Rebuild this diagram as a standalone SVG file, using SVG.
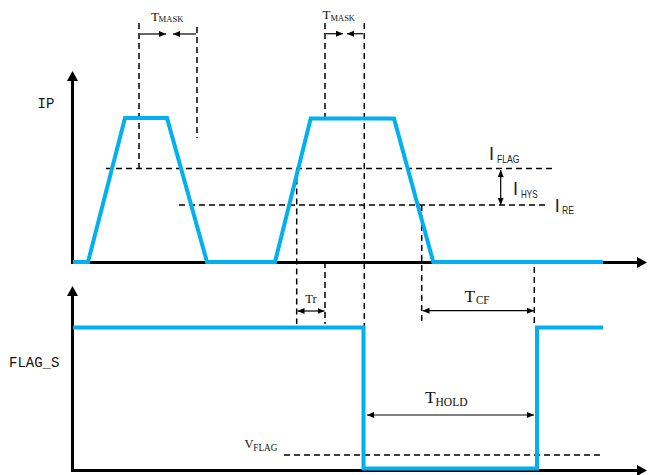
<svg xmlns="http://www.w3.org/2000/svg" width="649" height="475" viewBox="0 0 649 475">
<style>
.axis{stroke:#000;stroke-width:3;fill:none}
.wave{stroke:#00B0F0;stroke-width:4;fill:none;stroke-linejoin:miter}
.dash{stroke:#000;stroke-width:1.5;fill:none;stroke-dasharray:6 4}
.dim{stroke:#000;stroke-width:1.2;fill:none}
.serif{font-family:"Liberation Serif","Times New Roman",serif;fill:#111}
.sans{font-family:"Liberation Sans",Arial,sans-serif;fill:#222}
.mono{font-family:"Liberation Mono","DejaVu Sans Mono",monospace;fill:#111;font-size:14px}
</style>
<defs>
<marker id="axhead" markerUnits="userSpaceOnUse" markerWidth="11" markerHeight="11" refX="1" refY="5.5" orient="auto">
<path d="M0,0 L10,5.5 L0,11 z" fill="#000"/>
</marker>
<marker id="sm" markerUnits="userSpaceOnUse" markerWidth="8" markerHeight="7" refX="7" refY="3" orient="auto-start-reverse">
<path d="M0,0 L7,3 L0,6 z" fill="#000"/>
</marker>
</defs>
<g id="axes">
<path class="axis" d="M72.5,263.5 V80" marker-end="url(#axhead)"/>
<path class="axis" d="M71,262.5 H638" marker-end="url(#axhead)"/>
<path class="axis" d="M72.5,472 V295" marker-end="url(#axhead)"/>
<path class="axis" d="M71,470.5 H638" marker-end="url(#axhead)"/>
</g>
<g id="guides">
<path class="dash" d="M106,168.5 H553"/>
<path class="dash" d="M179,205 H548"/>
<path class="dash" d="M284,455 H602"/>
<path class="dash" d="M139,23 V168.5"/>
<path class="dash" d="M197,27 V138"/>
<path class="dash" d="M325,23 V118"/>
<path class="dash" d="M364.3,23 V327"/>
<path class="dash" d="M296.7,168.5 V324"/>
<path class="dash" d="M325,262 V324"/>
<path class="dash" d="M421.7,205 V323"/>
<path class="dash" d="M534.3,267 V327"/>
</g>
<g id="waveforms">
<path id="ip-wave" class="wave" d="M73,262 H88 L125,118 H167 L207,262 H275 L310.7,118.5 H394 L433.3,262 H603"/>
<path id="flag-wave" class="wave" d="M73,327.5 H363.5 V468.5 H537 V327.5 H603"/>
</g>
<g id="connectors">
<path class="dim" d="M140,34 H166" marker-end="url(#sm)"/>
<path class="dim" d="M196,34 H173" marker-end="url(#sm)"/>
<path class="dim" d="M326,33.7 H343" marker-end="url(#sm)"/>
<path class="dim" d="M363,33.7 H347" marker-end="url(#sm)"/>
<path class="dim" d="M500.7,170 V205" marker-start="url(#sm)" marker-end="url(#sm)"/>
<path class="dim" d="M297.5,311 H324.5" marker-start="url(#sm)" marker-end="url(#sm)"/>
<path class="dim" d="M422.5,310.7 H534" marker-start="url(#sm)" marker-end="url(#sm)"/>
<path class="dim" d="M367,415 H534" marker-start="url(#sm)" marker-end="url(#sm)"/>
</g>
<g id="labels">
<text class="mono" x="37.5" y="108">IP</text>
<text class="mono" x="9" y="367">FLAG_S</text>
<g id="tmask1"><text class="serif" x="151" y="21" font-size="13">T</text><text class="serif" x="158.5" y="22" font-size="9" textLength="25" lengthAdjust="spacingAndGlyphs">MASK</text></g>
<g id="tmask2"><text class="serif" x="322.5" y="18.5" font-size="13">T</text><text class="serif" x="330.5" y="20.5" font-size="9" textLength="24.5" lengthAdjust="spacingAndGlyphs">MASK</text></g>
<g id="iflag"><text class="sans" x="489" y="160" font-size="18">I</text><text class="sans" x="497" y="162.5" font-size="11" textLength="22.5" lengthAdjust="spacingAndGlyphs">FLAG</text></g>
<g id="ihys"><text class="sans" x="513" y="195" font-size="18">I</text><text class="sans" x="521" y="197.5" font-size="11" textLength="16.5" lengthAdjust="spacingAndGlyphs">HYS</text></g>
<g id="ire"><text class="sans" x="554.7" y="211.7" font-size="18">I</text><text class="sans" x="562" y="214" font-size="11" textLength="12" lengthAdjust="spacingAndGlyphs">RE</text></g>
<g id="tr"><text class="serif" x="311" y="303.3" font-size="12.5" text-anchor="middle">Tr</text></g>
<g id="tcf"><text class="serif" x="464.5" y="301.7" font-size="17.5">T</text><text class="serif" x="476" y="304" font-size="12" textLength="13.5" lengthAdjust="spacingAndGlyphs">CF</text></g>
<g id="thold"><text class="serif" x="425" y="403.3" font-size="17.5">T</text><text class="serif" x="435.5" y="406" font-size="12.5" textLength="32" lengthAdjust="spacingAndGlyphs">HOLD</text></g>
<g id="vflag"><text class="serif" x="244.5" y="448.3" font-size="12.5">V</text><text class="serif" x="253.3" y="450.7" font-size="9.5" textLength="24" lengthAdjust="spacingAndGlyphs">FLAG</text></g>
</g>
</svg>
